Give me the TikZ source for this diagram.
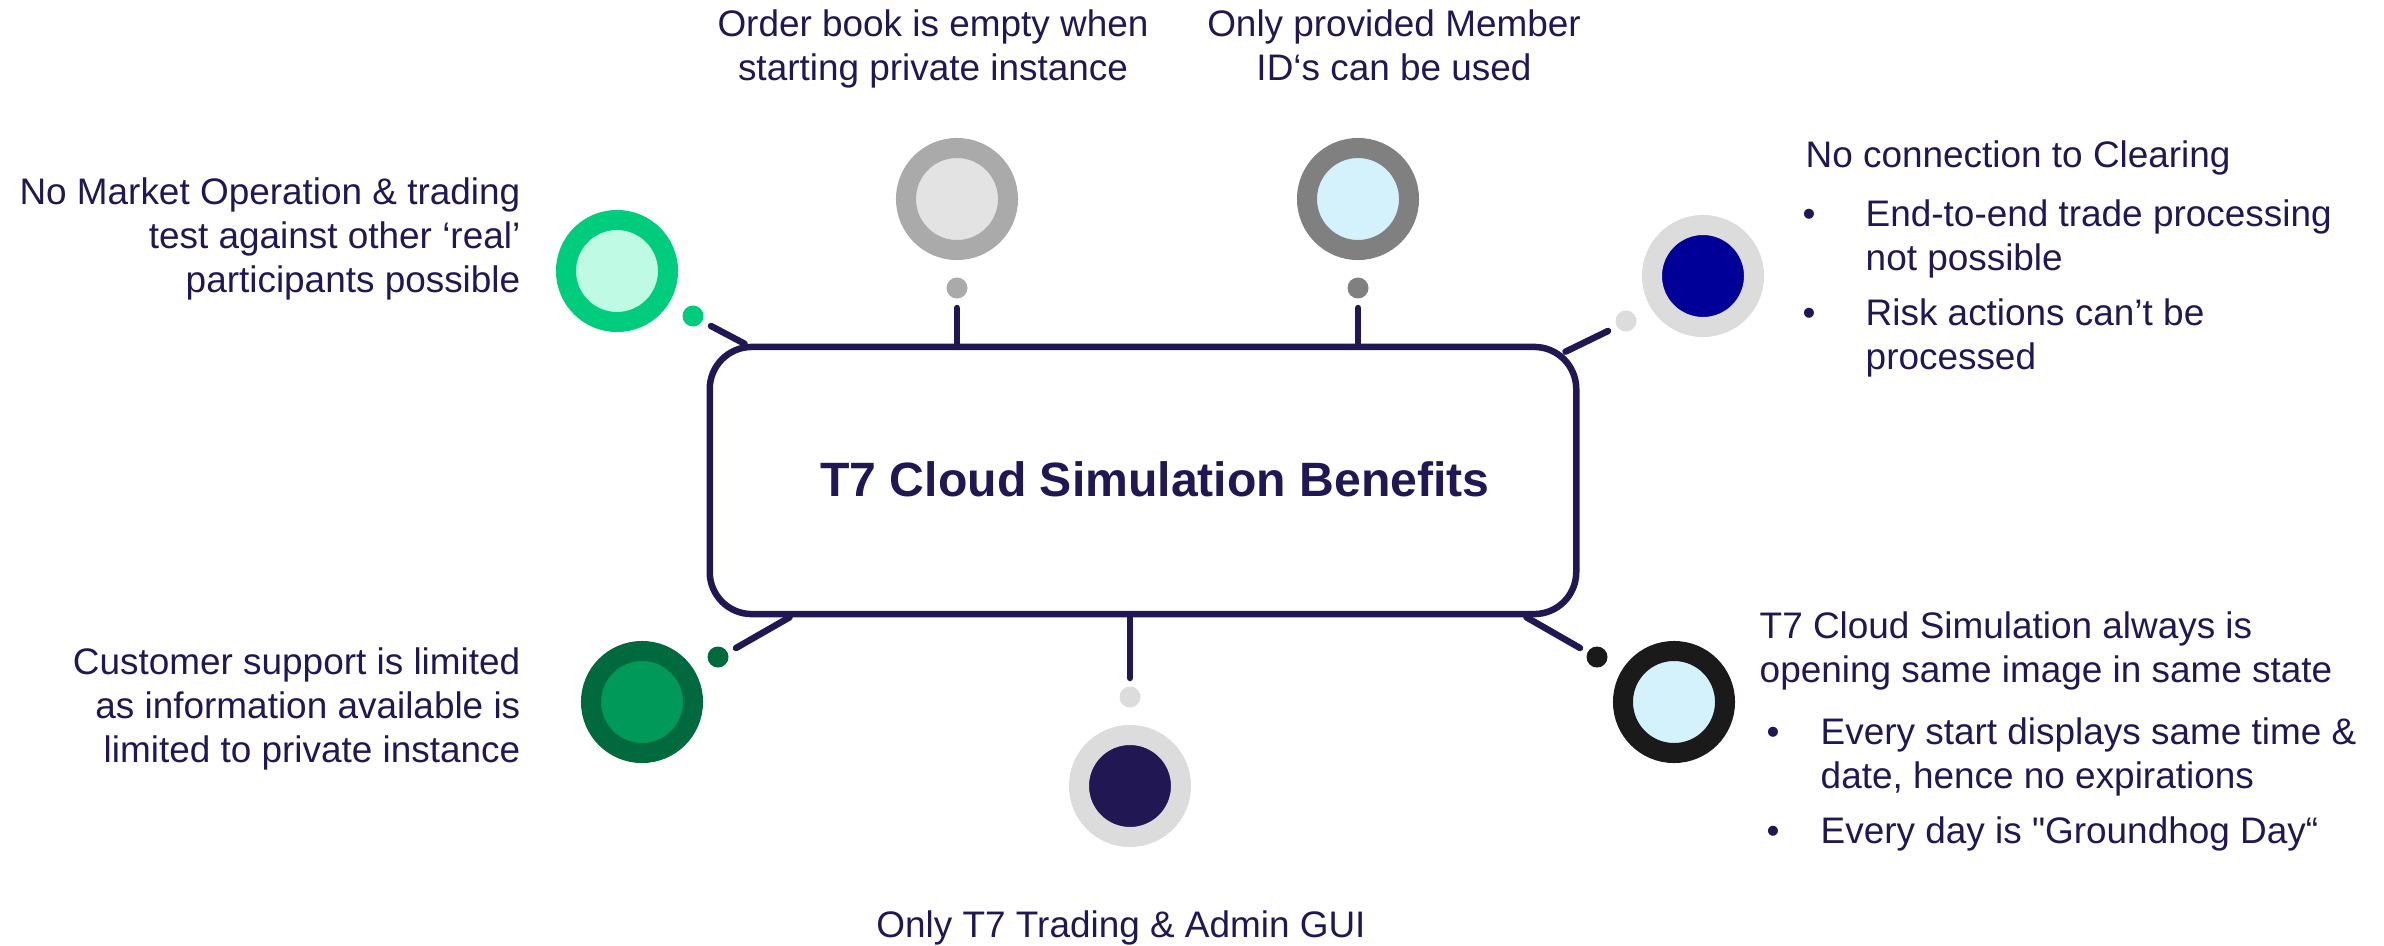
\documentclass[tikz,border=0pt]{standalone}
\usepackage{fontspec}
\setmainfont{Liberation Sans}[Ligatures=TeXOff]
\usetikzlibrary{positioning}
\definecolor{navy}{RGB}{33,23,82}
\definecolor{mkgreen}{RGB}{0,204,126}
\definecolor{mkmint}{RGB}{191,251,228}
\definecolor{silver}{RGB}{170,170,170}
\definecolor{pale}{RGB}{227,227,227}
\definecolor{steel}{RGB}{128,128,128}
\definecolor{ice}{RGB}{212,242,251}
\definecolor{mist}{RGB}{220,220,220}
\definecolor{royal}{RGB}{0,0,153}
\definecolor{forest}{RGB}{0,106,62}
\definecolor{emerald}{RGB}{0,153,90}
\definecolor{coal}{RGB}{26,26,26}
\tikzset{
    x=0.01cm, y=-0.01cm,    % one unit = one pixel of the slide
    every node/.style={
        text=navy,
        inner sep=0pt,
    },
    hub/.style={            % the centre box
        draw=navy,
        rectangle,
        rounded corners=4.2mm,
        line width=0.65mm,
        minimum width=8.66cm,
        minimum height=2.67cm
    },
    title/.style={
        font=\fontsize{13.7}{16}\selectfont\bfseries
    },
    note/.style={           % text next to a circle
        font=\fontsize{10.5}{12.5}\selectfont
    },
    ring/.style 2 args={    % outer colour, inner colour
        circle,
        draw=#1,
        fill=#2,
        line width=2mm,
        minimum size=10.2mm
    },
    dot/.style={
        circle,
        fill=#1,
        minimum size=2.1mm
    },
    link/.style={
        draw=navy,
        line width=0.65mm,
        line cap=round
    }
}
\begin{document}
\begin{tikzpicture}
    \useasboundingbox (0,0) rectangle (2384,945);
    % connectors
    \coordinate (l1) at (711,326);
    \coordinate (l2) at (957,308);
    \coordinate (l3) at (1358,308);
    \coordinate (l4) at (1608,331);
    \coordinate (l5) at (736,648);
    \coordinate (l6) at (1130,678);
    \coordinate (l7) at (1580,648);
    \node[hub] (box) at (1143,480.5) {};
    \draw[link] (l1) -- ([xshift=3.8mm]box.north west);
    \draw[link] (l2) -- (l2 |- box.north);
    \draw[link] (l3) -- (l3 |- box.north);
    \draw[link] (l4) -- ([xshift=-1.4mm,yshift=-0.8mm]box.north east);
    \draw[link] (l5) -- ([xshift=8.3mm]box.south west);
    \draw[link] (l6) -- (l6 |- box.south);
    \draw[link] (l7) -- ([xshift=-5.3mm]box.south east);
    \node[title, anchor=base] (head) at (1155,496) {T7 Cloud Simulation Benefits};
    % circles and dots
    \node[ring={mkgreen}{mkmint}] (c1) at (617,271) {};
    \node[ring={silver}{pale}] (c2) at (957,199) {};
    \node[ring={steel}{ice}] (c3) at (1358,199) {};
    \node[ring={mist}{royal}] (c4) at (1703,276) {};
    \node[ring={forest}{emerald}] (c5) at (642,702) {};
    \node[ring={mist}{navy}] (c6) at (1130,786) {};
    \node[ring={coal}{ice}] (c7) at (1674,702) {};
    \node[dot=mkgreen] (d1) at (693,316) {};
    \node[dot=silver] (d2) at (957,288) {};
    \node[dot=steel] (d3) at (1358,288) {};
    \node[dot=mist] (d4) at (1626,321) {};
    \node[dot=forest] (d5) at (718,657) {};
    \node[dot=mist] (d6) at (1130,697) {};
    \node[dot=coal] (d7) at (1597,657) {};
    % texts (base = baseline of the last line)
    \node[note, anchor=base east, align=right] (t1) at (521,292) {No Market Operation \& trading\\test against other ‘real’\\participants possible};
    \node[note, anchor=base, align=center] (t2) at (933,80) {Order book is empty when\\starting private instance};
    \node[note, anchor=base, align=center] (t3) at (1394,80) {Only provided Member\\ID‘s can be used};
    \node[note, anchor=base west] (t4) at (1805,167) {No connection to Clearing};
    \node[note, anchor=base] (b41) at (1809,226) {•};
    \node[note, anchor=base west, align=left] (t41) at (1865,270) {End-to-end trade processing\\not possible};
    \node[note, anchor=base] (b42) at (1809,325) {•};
    \node[note, anchor=base west, align=left] (t42) at (1865,369) {Risk actions can’t be\\processed};
    \node[note, anchor=base east, align=right] (t5) at (521,762) {Customer support is limited\\as information available is\\limited to private instance};
    \node[note, anchor=base] (t6) at (1121,937) {Only T7 Trading \& Admin GUI};
    \node[note, anchor=base west, align=left] (t7) at (1759,682) {T7 Cloud Simulation always is\\opening same image in same state};
    \node[note, anchor=base] (b71) at (1773,744) {•};
    \node[note, anchor=base west, align=left] (t71) at (1820,788) {Every start displays same time \&\\date, hence no expirations};
    \node[note, anchor=base] (b72) at (1773,843) {•};
    \node[note, anchor=base west] (t72) at (1820,843) {Every day is "Groundhog Day“};
\end{tikzpicture}
\end{document}
